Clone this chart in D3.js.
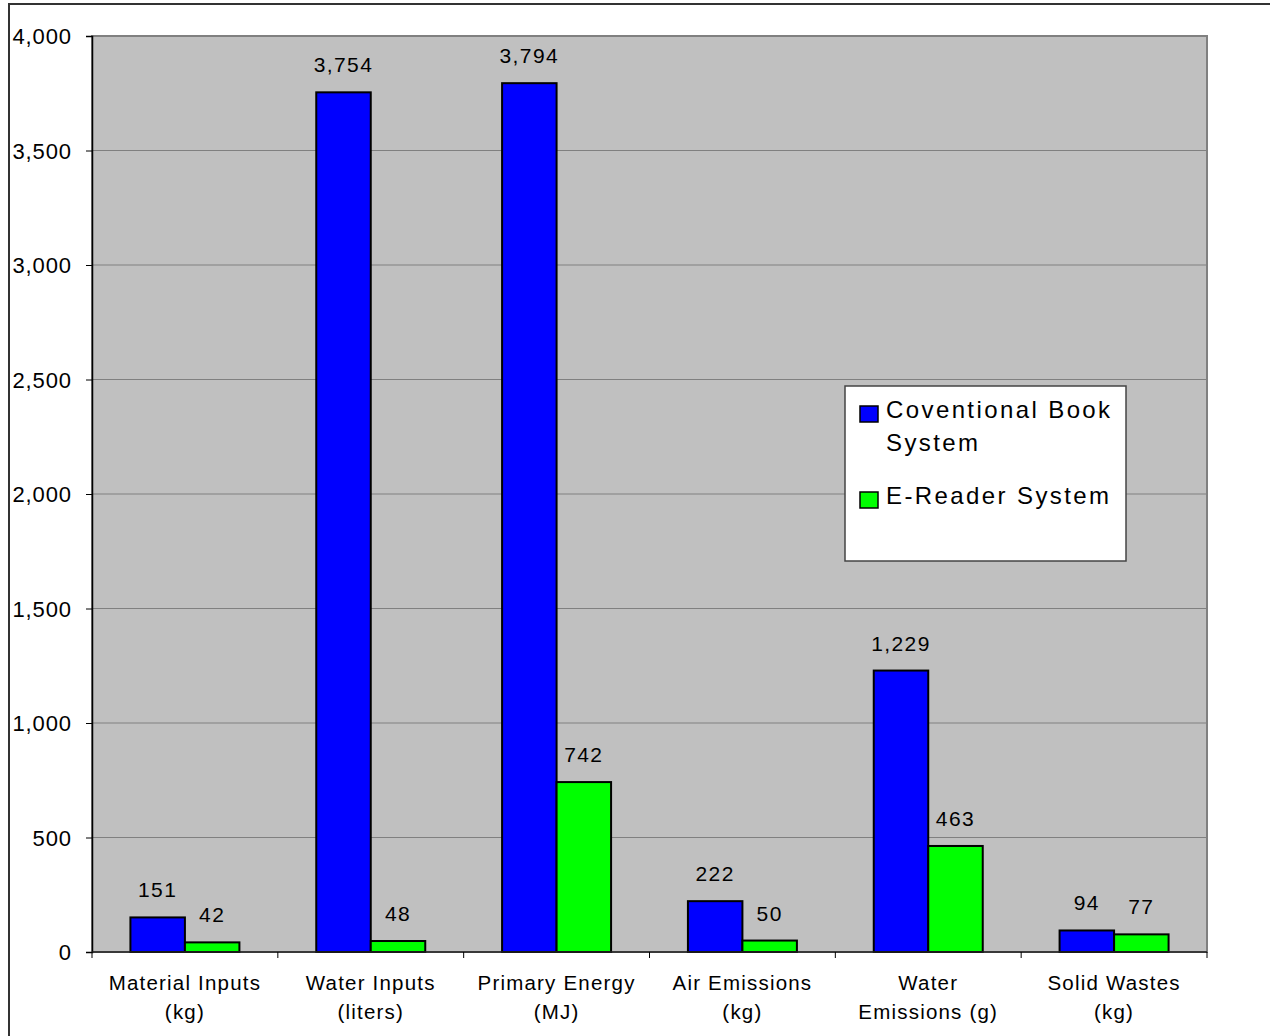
<!DOCTYPE html>
<html>
<head>
<meta charset="utf-8">
<script src="https://cdn.jsdelivr.net/npm/d3@7"></script>
<style>
  html, body { margin: 0; padding: 0; background: #fff; }
  svg { display: block; font-family: "Liberation Sans", Arial, sans-serif; }
</style>
</head>
<body>
<svg id="chart" width="1270" height="1036"></svg>
<script>
// Life-cycle comparison: conventional books vs. e-reader
const categories = [
  ["Material Inputs", "(kg)"],
  ["Water Inputs", "(liters)"],
  ["Primary Energy", "(MJ)"],
  ["Air Emissions", "(kg)"],
  ["Water", "Emissions (g)"],
  ["Solid Wastes", "(kg)"]
];
const seriesNames = ["Coventional Book System", "E-Reader System"];
const bookValues = [151, 3754, 3794, 222, 1229, 94];
const readerValues = [42, 48, 742, 50, 463, 77];
const yTicks = [0, 500, 1000, 1500, 2000, 2500, 3000, 3500, 4000];
const seriesColors = ["#0000ff", "#00ff00"];

const svg = d3.select("#chart");
const plot = { left: 92, right: 1207, top: 36, bottom: 952 };

const fmt = d3.format(",");
const catKeys = categories.map(c => c.join(" "));

const x = d3.scaleBand().domain(catKeys).range([plot.left, plot.right]).padding(0);
const inner = d3.scaleBand().domain([0, 1])
  .range([0, x.bandwidth()]).paddingOuter(0.705).paddingInner(0);
const y = d3.scaleLinear().domain([0, 4000]).range([plot.bottom, plot.top]);

// outer chart frame
svg.append("rect")
  .attr("x", 9).attr("y", 4).attr("width", 1300).attr("height", 1100)
  .attr("fill", "#fff").attr("stroke", "#333").attr("stroke-width", 2);

// plot background
svg.append("rect")
  .attr("x", plot.left).attr("y", plot.top)
  .attr("width", plot.right - plot.left).attr("height", plot.bottom - plot.top)
  .attr("fill", "#c0c0c0").attr("stroke", "#808080").attr("stroke-width", 2);

// horizontal gridlines
svg.append("g").selectAll("line")
  .data(yTicks.filter(t => t > 0))
  .join("line")
  .attr("x1", plot.left).attr("x2", plot.right)
  .attr("y1", d => y(d)).attr("y2", d => y(d))
  .attr("stroke", "#808080").attr("stroke-width", 1);

// y axis
const yAxis = svg.append("g")
  .attr("transform", `translate(${plot.left},0)`)
  .call(d3.axisLeft(y).tickValues(yTicks).tickFormat(fmt).tickSize(6).tickPadding(14));
yAxis.select(".domain").attr("stroke", "#000").attr("stroke-width", 1.5);
yAxis.selectAll(".tick line").attr("stroke", "#000");
yAxis.selectAll(".tick text")
  .attr("fill", "#000").style("font-size", "22px").style("letter-spacing", "0.9px")
  .attr("dy", "0.36em");

// bars
const groups = svg.append("g").selectAll("g")
  .data(catKeys.map((k, i) => ({ key: k, vals: [bookValues[i], readerValues[i]] })))
  .join("g")
  .attr("transform", d => `translate(${x(d.key)},0)`);

groups.selectAll("rect")
  .data(d => d.vals.map((v, s) => ({ v, s })))
  .join("rect")
  .attr("x", d => inner(d.s))
  .attr("width", inner.bandwidth())
  .attr("y", d => y(d.v))
  .attr("height", d => y(0) - y(d.v))
  .attr("fill", d => seriesColors[d.s])
  .attr("stroke", "#000").attr("stroke-width", 2);

// value labels
groups.selectAll("text")
  .data(d => d.vals.map((v, s) => ({ v, s })))
  .join("text")
  .attr("x", d => inner(d.s) + inner.bandwidth() / 2)
  .attr("y", d => y(d.v) - 20)
  .attr("text-anchor", "middle")
  .style("font-size", "21px").style("letter-spacing", "1.4px")
  .attr("fill", "#000")
  .text(d => fmt(d.v));

// x axis line and ticks at category boundaries
svg.append("line")
  .attr("x1", plot.left).attr("x2", plot.right)
  .attr("y1", plot.bottom).attr("y2", plot.bottom)
  .attr("stroke", "#222").attr("stroke-width", 1.5);
svg.append("g").selectAll("line")
  .data(catKeys.map(k => x(k)).concat([plot.right]))
  .join("line")
  .attr("x1", d => d).attr("x2", d => d)
  .attr("y1", plot.bottom).attr("y2", plot.bottom + 6)
  .attr("stroke", "#000");

// category labels (two lines)
const catLabels = svg.append("g").selectAll("text")
  .data(categories)
  .join("text")
  .attr("x", (d, i) => x(catKeys[i]) + x.bandwidth() / 2)
  .attr("y", 990)
  .attr("text-anchor", "middle")
  .style("font-size", "20.5px").style("letter-spacing", "1.2px")
  .attr("fill", "#000");
catLabels.selectAll("tspan")
  .data(d => d)
  .join("tspan")
  .attr("x", function () { return d3.select(this.parentNode).attr("x"); })
  .attr("dy", (d, i) => i === 0 ? 0 : 29)
  .text(d => d);

// legend
const legend = svg.append("g").attr("transform", "translate(845,386)");
legend.append("rect")
  .attr("width", 281).attr("height", 175)
  .attr("fill", "#fff").attr("stroke", "#444").attr("stroke-width", 1.5);
const legendLines = [["Coventional Book", "System"], ["E-Reader System"]];
const legendItems = legend.selectAll("g.item")
  .data(seriesNames)
  .join("g").attr("class", "item")
  .attr("transform", (d, i) => `translate(0,${i === 0 ? 0 : 86})`);
legendItems.append("rect")
  .attr("x", 15).attr("y", 20).attr("width", 18).attr("height", 16)
  .attr("fill", (d, i) => seriesColors[i])
  .attr("stroke", "#000").attr("stroke-width", 1.5);
const legendText = legendItems.append("text")
  .attr("x", 41).attr("y", 32)
  .style("font-size", "24px").style("letter-spacing", "2.4px")
  .attr("fill", "#000");
legendText.selectAll("tspan")
  .data((d, i) => legendLines[i])
  .join("tspan")
  .attr("x", 41)
  .attr("dy", (d, i) => i === 0 ? 0 : 33)
  .text(d => d);
</script>
</body>
</html>
